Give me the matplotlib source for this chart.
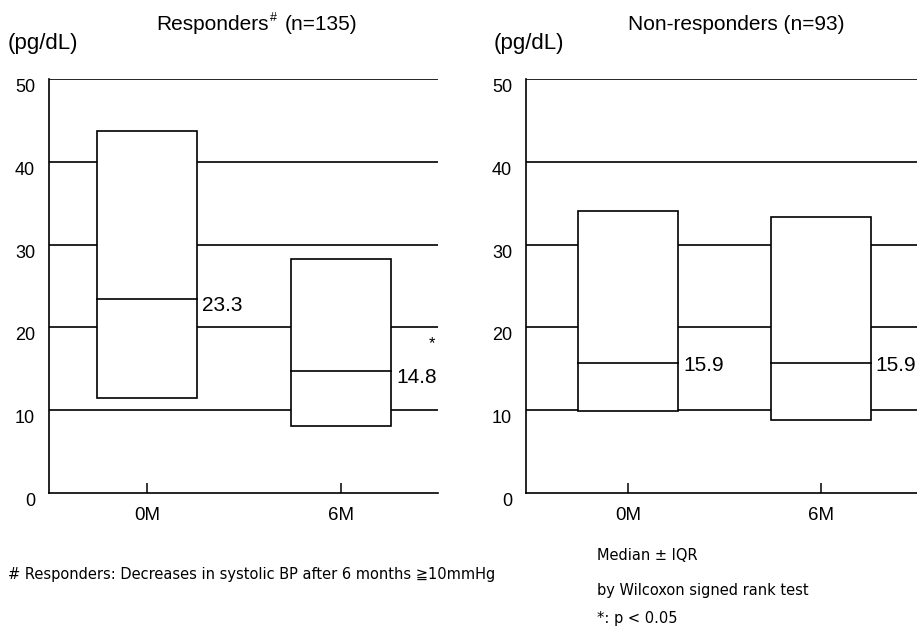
import matplotlib
matplotlib.use("Agg")
import matplotlib.pyplot as plt
from matplotlib.patches import Rectangle

plt.rcParams['font.family'] = ['Liberation Sans', 'DejaVu Sans']

# data (pg/dL): median, Q1, Q3 per time point
categories = ["0M", "6M"]
resp_q1 = [11.5, 8.1]
resp_q3 = [43.7, 28.3]
resp_med = [23.4, 14.7]
resp_labels = ["23.3", "14.8"]
non_q1 = [9.9, 8.8]
non_q3 = [34.1, 33.3]
non_med = [15.7, 15.7]
non_labels = ["15.9", "15.9"]
yticks = [0, 10, 20, 30, 40, 50]

fig = plt.figure(figsize=(9.17, 6.26), dpi=100)
ax1 = fig.add_axes([49/917, 1-493/626, 389/917, 414/626])
ax2 = fig.add_axes([526/917, 1-493/626, 391/917, 414/626])

half = 0.26


def panel(ax, q1, q3, med, labels, xlim, lab_off):
    for y in yticks[1:]:
        ax.axhline(y, color="black", lw=1.2, zorder=1)
    for i in range(len(categories)):
        ax.add_patch(Rectangle((i - half, q1[i]), 2*half, q3[i] - q1[i],
                               facecolor="white", edgecolor="black", lw=1.2, zorder=2))
        ax.plot([i - half, i + half], [med[i], med[i]], color="black", lw=1.2, zorder=3)
        ax.text(i + half + 0.025, med[i] + lab_off, labels[i], fontsize=15,
                va="center", ha="left", zorder=4)
    ax.set_xlim(*xlim)
    ax.set_ylim(0, 50)
    ax.set_yticks(yticks)
    ax.set_xticks(range(len(categories)))
    ax.set_xticklabels(categories)
    ax.tick_params(axis="y", length=0, pad=10, labelsize=13)
    for lab in ax.get_yticklabels():
        lab.set_verticalalignment("top")
    ax.tick_params(axis="x", direction="in", length=7, width=1.1, pad=10, labelsize=13.5)
    for s in ["top", "right"]:
        ax.spines[s].set_visible(False)
    for s in ["left", "bottom"]:
        ax.spines[s].set_linewidth(1.2)
    ax.patch.set_alpha(0)


panel(ax1, resp_q1, resp_q3, resp_med, resp_labels, (-0.505, 1.5), -0.8)
panel(ax2, non_q1, non_q3, non_med, non_labels, (-0.53, 1.5), -0.3)

ax1.text(1.47, 18.1, "*", fontsize=12, ha="center", va="center")

fig.text(8/917, 1-43/626, "(pg/dL)", fontsize=16, va="center")
fig.text(494/917, 1-44/626, "(pg/dL)", fontsize=16, va="center")
# title with a small superscript "#"
fig.text(269/917, 1-24/626, "Responders", fontsize=15, ha="right", va="center")
fig.text(270/917, 1-18/626, "#", fontsize=9, ha="left", va="center")
fig.text(285/917, 1-24/626, "(n=135)", fontsize=15, ha="left", va="center")
fig.text(736/917, 1-24/626, "Non-responders (n=93)", fontsize=15, ha="center", va="center")

foot = ['Liberation Sans Narrow', 'DejaVu Sans']
fig.text(8/917, 1-575/626, "# Responders: Decreases in systolic BP after 6 months \u226710mmHg",
         fontsize=10.5, family=foot, va="center")
fig.text(597/917, 1-555/626, "Median \u00b1 IQR", fontsize=10.5, family=foot, va="center")
fig.text(597/917, 1-590/626, "by Wilcoxon signed rank test", fontsize=10.5, family=foot, va="center")
fig.text(597/917, 1-618/626, "*: p < 0.05", fontsize=10.5, family=foot, va="center")

fig.savefig("out.png", dpi=100)
